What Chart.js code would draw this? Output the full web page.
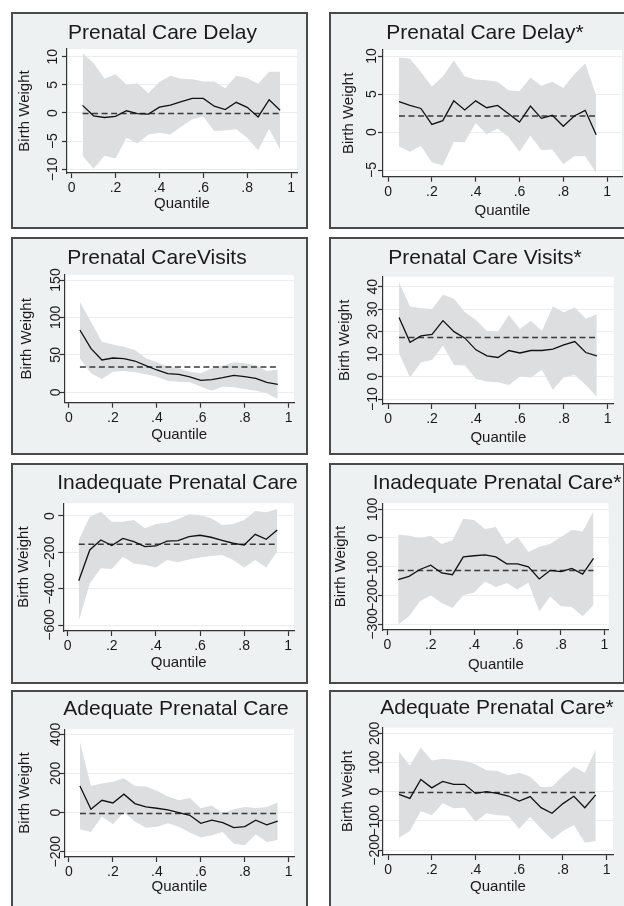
<!DOCTYPE html>
<html>
<head>
<meta charset="utf-8">
<script src="https://cdn.jsdelivr.net/npm/chart.js@4.4.0/dist/chart.umd.min.js"></script>
<style>
  body { margin: 0; width: 624px; height: 906px; overflow: hidden; position: relative; background: #fff; }
  .panel { position: absolute; background: #eef1f1; box-shadow: inset 0 0 0 2px #4a4a4a; }
  .panel canvas { position: absolute; left: 0; top: 0; }
</style>
</head>
<body>
<script>
// quantiles on the x axis
const quantiles = [0.05, 0.10, 0.15, 0.20, 0.25, 0.30, 0.35, 0.40, 0.45, 0.50,
                   0.55, 0.60, 0.65, 0.70, 0.75, 0.80, 0.85, 0.90, 0.95];
const xTicks = [0, 0.2, 0.4, 0.6, 0.8, 1];

// Prenatal Care Delay
const delayEst  = [1.35, -0.5, -0.8, -0.6, 0.4, -0.1, -0.2, 1.05, 1.4, 2.0, 2.6, 2.6, 1.2, 0.6, 1.9, 1.0, -0.7, 2.35, 0.5];
const delayHigh = [10.6, 8.9, 6.1, 6.9, 5.0, 5.3, 3.5, 5.5, 6.6, 6.1, 6.0, 5.6, 5.6, 4.4, 6.6, 6.2, 5.2, 7.35, 7.35];
const delayLow  = [-7.6, -9.9, -7.6, -8.1, -4.4, -5.4, -3.8, -3.5, -3.8, -2.4, -1.1, -0.6, -3.2, -3.1, -2.9, -4.4, -6.6, -2.8, -6.5];
const delayOls  = -0.1;
const delayTicks = [-10, -5, 0, 5, 10];

// Prenatal Care Delay*
const delay2Est  = [4.0, 3.5, 3.1, 1.0, 1.5, 4.1, 2.9, 4.1, 3.2, 3.5, 2.4, 1.3, 3.4, 1.8, 2.2, 0.75, 2.1, 2.85, -0.35];
const delay2High = [9.8, 9.65, 7.9, 6.0, 7.3, 9.4, 7.3, 6.9, 6.8, 6.6, 5.5, 5.35, 7.15, 6.1, 6.6, 5.8, 7.6, 9.0, 4.8];
const delay2Low  = [-1.9, -2.6, -1.8, -4.0, -4.4, -1.3, -1.35, 1.2, -0.3, 0.45, -0.65, -2.6, -0.5, -2.4, -2.3, -4.25, -3.2, -3.2, -5.4];
const delay2Ols  = 2.1;
const delay2Ticks = [-5, 0, 5, 10];

// Prenatal Care Visits
const visitsEst  = [83.2, 58.7, 43.2, 45.8, 45, 41.8, 35.6, 29.8, 24.9, 24, 20.5, 16, 16.9, 19.6, 22.7, 20.9, 18.7, 13.4, 10.7];
const visitsHigh = [121, 94.3, 67.6, 64, 61, 56.5, 45.4, 40, 34.3, 32, 27.6, 25.4, 32, 35.6, 40, 38.7, 36.5, 28.5, 30.3];
const visitsLow  = [45.4, 25.4, 17.8, 27.6, 28.5, 26.7, 24, 20.9, 15.1, 14.2, 13.4, 7.6, 2.2, 7.6, 6.7, 4.5, 2.2, -1.3, -8.9];
const visitsOls  = 33.8;
const visitsTicks = [0, 50, 100, 150];

// Prenatal Care Visits*
const visits2Est  = [26.3, 15.3, 18.1, 18.8, 24.9, 20, 17.1, 11.9, 9.2, 8.5, 11.6, 10.5, 11.6, 11.6, 12.2, 14.1, 15.6, 10.7, 9.2];
const visits2High = [42, 31.2, 30.4, 30.1, 36.4, 34.6, 28.6, 25.2, 20.3, 20, 27.4, 21.2, 24.8, 20.3, 31.2, 28.6, 30.7, 25.7, 27.7];
const visits2Low  = [10.4, -0.4, 6.4, 7.4, 13.8, 5.2, 4.9, -1, -2.2, -2.5, -3.7, 0, -0.4, 3, -5.9, -0.3, 0.7, -3.7, -9];
const visits2Ols  = 17.4;
const visits2Ticks = [-10, 0, 10, 20, 30, 40];

// Inadequate Prenatal Care
const inadEst  = [-356, -187, -132, -163, -123, -141, -169, -165, -138, -136, -114, -106, -117, -134, -150, -160, -101, -128, -77];
const inadHigh = [-132, -4, 24, -31, -31, -22, -68, -44, -37, -18, 9, 6, -13, -50, -44, -22, 28, 20, 39];
const inadLow  = [-578, -371, -288, -292, -224, -261, -270, -283, -242, -255, -239, -229, -220, -215, -242, -283, -242, -283, -196];
const inadOls  = -156;
const inadTicks = [-600, -400, -200, 0];

// Inadequate Prenatal Care*
const inad2Est  = [-145, -134, -110, -95, -122, -128, -66, -62, -59, -66, -90, -90, -101, -143, -113, -117, -106, -126, -71];
const inad2High = [12, 8, 0, 8, -21, -8, 67, 63, 31, 38, -23, 3, -49, -31, -21, 3, 29, 23, 93];
const inad2Low  = [-302, -273, -221, -200, -227, -244, -200, -190, -152, -172, -157, -180, -155, -256, -204, -238, -241, -273, -233];
const inad2Ols  = -113;
const inad2Ticks = [-300, -200, -100, 0, 100];

// Adequate Prenatal Care
const adeqEst  = [136, 17, 63, 49, 94, 46, 29, 22, 14, 0, -14, -55, -39, -51, -77, -72, -39, -63, -44];
const adeqHigh = [361, 136, 148, 157, 176, 136, 133, 111, 82, 63, 75, 22, 36, -3, 17, 29, 24, 29, 51];
const adeqLow  = [-85, -99, -20, -60, 0, -46, -77, -73, -55, -72, -102, -128, -116, -99, -159, -167, -111, -150, -140];
const adeqOls  = -5;
const adeqTicks = [-200, 0, 200, 400];

// Adequate Prenatal Care*
const adeq2Est  = [-9, -23, 42, 13, 35, 25, 25, -6, 0, -6, -15, -32, -17, -55, -74, -41, -16, -55, -11];
const adeq2High = [137, 90, 151, 107, 113, 109, 105, 94, 73, 71, 56, 65, 51, 16, 17, 54, 85, 65, 145];
const adeq2Low  = [-158, -135, -66, -81, -40, -57, -55, -104, -74, -81, -83, -127, -86, -127, -164, -135, -114, -175, -169];
const adeq2Ols  = -3;
const adeq2Ticks = [-200, -100, 0, 100, 200];

const titles = ['Prenatal Care Delay', 'Prenatal Care Delay*', 'Prenatal CareVisits', 'Prenatal Care Visits*',
                'Inadequate Prenatal Care', 'Inadequate Prenatal Care*', 'Adequate Prenatal Care', 'Adequate Prenatal Care*'];

const series = [
  [delayEst, delayLow, delayHigh, delayOls, delayTicks],
  [delay2Est, delay2Low, delay2High, delay2Ols, delay2Ticks],
  [visitsEst, visitsLow, visitsHigh, visitsOls, visitsTicks],
  [visits2Est, visits2Low, visits2High, visits2Ols, visits2Ticks],
  [inadEst, inadLow, inadHigh, inadOls, inadTicks],
  [inad2Est, inad2Low, inad2High, inad2Ols, inad2Ticks],
  [adeqEst, adeqLow, adeqHigh, adeqOls, adeqTicks],
  [adeq2Est, adeq2Low, adeq2High, adeq2Ols, adeq2Ticks]
];

// page layout (px): panel box, plot area [l, r, t, b], axis ranges, text spots
const layout = [
  { box: [11, 12, 297, 217],  area: [67, 297, 49, 173],     xr: [-0.021, 1.027], yr: [-10.66, 11.37], titleX: 162.5, titleY: 39,  yTitleX: 25,  tickGap: 13.5, xTitleY: 204 },
  { box: [329, 12, 298, 217], area: [383, 622, 50, 176.7],  xr: [-0.023, 1.068], yr: [-5.88, 10.79], titleX: 485,   titleY: 39,  yTitleX: 348.7, tickGap: 11, xTitleY: 211 },
  { box: [11, 237, 297, 218], area: [64.3, 294, 275, 402.7], xr: [-0.021, 1.024], yr: [-13.9, 156.7], titleX: 157,  titleY: 264, yTitleX: 26.7, tickGap: 8,  xTitleY: 435 },
  { box: [329, 237, 298, 218], area: [383, 613.7, 276.7, 404], xr: [-0.023, 1.027], yr: [-12.2, 44.45], titleX: 485, titleY: 264, yTitleX: 344.7, tickGap: 9.5, xTitleY: 438 },
  { box: [11, 463, 297, 221], area: [63.3, 294, 503.3, 631], xr: [-0.02, 1.026], yr: [-633, 69.9],   titleX: 177.5, titleY: 489, yTitleX: 24,  tickGap: 13, xTitleY: 663 },
  { box: [329, 463, 296, 221], area: [383, 608.7, 503.3, 630], xr: [-0.02, 1.02], yr: [-320.9, 120.9], titleX: 497, titleY: 489, yTitleX: 341, tickGap: 10, xTitleY: 665 },
  { box: [11, 690, 297, 222], area: [65, 294, 729.3, 857],   xr: [-0.018, 1.024], yr: [-227, 425.5],  titleX: 176,  titleY: 715, yTitleX: 25,  tickGap: 9,  xTitleY: 887 },
  { box: [329, 690, 298, 222], area: [383, 613, 727.7, 855], xr: [-0.023, 1.029], yr: [-217.1, 219.2], titleX: 497, titleY: 714, yTitleX: 348, tickGap: 8, xTitleY: 887 }
];

const FONT = "'Liberation Sans', Arial, Helvetica, sans-serif";
const INK = '#1a1a1a';

function fmtY(v) {
  return v < 0 ? '\u2212' + Math.abs(v) : String(v);
}
function fmtX(v) {
  if (v === 0 || v === 1) return String(v);
  return String(v).replace(/^0/, '');
}
function points(arr) {
  return quantiles.map((q, i) => ({ x: q, y: arr[i] }));
}

// white plot region, rotated y tick labels and the panel title
const stataLook = {
  id: 'stataLook',
  beforeDraw(chart) {
    const a = chart.chartArea, ctx = chart.ctx;
    ctx.save();
    ctx.fillStyle = '#fff';
    ctx.fillRect(a.left, a.top, a.right - a.left, a.bottom - a.top);
    ctx.restore();
  },
  afterDraw(chart, args, opts) {
    const ctx = chart.ctx, ys = chart.scales.y, a = chart.chartArea;
    ctx.save();
    ctx.fillStyle = INK;
    ctx.font = '14px ' + FONT;
    ctx.textAlign = 'center';
    ctx.textBaseline = 'middle';
    ys.ticks.forEach(t => {
      ctx.save();
      ctx.translate(a.left - opts.tickGap, ys.getPixelForValue(t.value));
      ctx.rotate(-Math.PI / 2);
      ctx.fillText(fmtY(t.value), 0, 0);
      ctx.restore();
    });
    ctx.font = '21px ' + FONT;
    ctx.textBaseline = 'alphabetic';
    ctx.fillText(opts.title, opts.titleX, opts.titleY);
    ctx.restore();
  }
};

layout.forEach((L, i) => {
  const [bx, by, bw, bh] = L.box;
  const [al, ar, at, ab] = L.area;
  const [est, low, high, ols, yTicks] = series[i];

  const div = document.createElement('div');
  div.className = 'panel';
  div.style.left = bx + 'px';
  div.style.top = by + 'px';
  div.style.width = bw + 'px';
  div.style.height = bh + 'px';
  const canvas = document.createElement('canvas');
  canvas.width = bw;
  canvas.height = bh;
  div.appendChild(canvas);
  document.body.appendChild(div);

  new Chart(canvas, {
    type: 'line',
    data: {
      datasets: [
        { data: points(est), borderColor: '#111', borderWidth: 1.3, pointRadius: 0, fill: false, tension: 0 },
        { data: [{ x: quantiles[0], y: ols }, { x: quantiles[quantiles.length - 1], y: ols }],
          borderColor: '#3a3a3a', borderWidth: 1.5, borderDash: [6, 3.5], pointRadius: 0, fill: false },
        { data: points(high), borderWidth: 0, borderColor: 'rgba(0,0,0,0)', pointRadius: 0,
          backgroundColor: '#dcdedf', fill: '+1' },
        { data: points(low), borderWidth: 0, borderColor: 'rgba(0,0,0,0)', pointRadius: 0, fill: false }
      ]
    },
    options: {
      responsive: false,
      animation: false,
      events: [],
      devicePixelRatio: 1,
      layout: { padding: { left: 0, bottom: 0, top: at - by, right: bx + bw - ar } },
      plugins: {
        legend: { display: false },
        tooltip: { enabled: false },
        stataLook: { title: titles[i], titleX: L.titleX - bx, titleY: L.titleY - by, tickGap: L.tickGap }
      },
      scales: {
        x: {
          type: 'linear',
          min: L.xr[0],
          max: L.xr[1],
          afterBuildTicks: s => { s.ticks = xTicks.map(v => ({ value: v })); },
          afterFit: s => { s.height = by + bh - ab; },
          grid: { drawOnChartArea: false, drawTicks: true, tickLength: 5, tickColor: '#333', tickWidth: 1.2 },
          border: { display: true, color: '#333', width: 1.2 },
          ticks: { color: INK, font: { family: FONT, size: 14 }, padding: 2, maxRotation: 0, autoSkip: false,
                   callback: v => fmtX(v) },
          title: { display: true, text: 'Quantile', color: INK, font: { family: FONT, size: 15 },
                   padding: { top: 0, bottom: (by + bh - L.xTitleY) - 9 } }
        },
        y: {
          type: 'linear',
          min: L.yr[0],
          max: L.yr[1],
          afterBuildTicks: s => { s.ticks = yTicks.map(v => ({ value: v })); },
          afterFit: s => { s.width = al - bx; },
          grid: { color: '#eceeee', lineWidth: 1, drawTicks: true, tickLength: 5, tickColor: '#333', tickWidth: 1.2 },
          border: { display: true, color: '#333', width: 1.2 },
          ticks: { display: false },
          title: { display: true, text: 'Birth Weight', color: INK, font: { family: FONT, size: 15 },
                   padding: { top: (L.yTitleX - bx) - 9, bottom: 0 } }
        }
      }
    },
    plugins: [stataLook]
  });
});
</script>
</body>
</html>
